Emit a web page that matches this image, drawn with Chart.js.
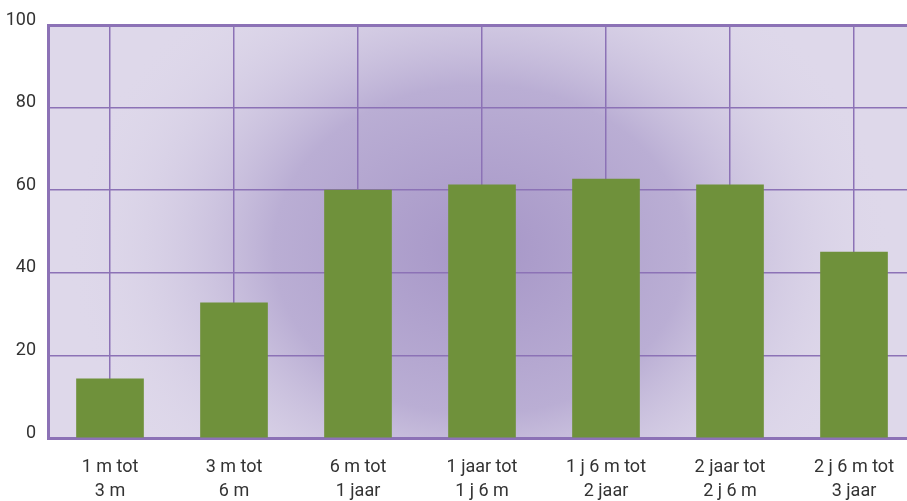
<!DOCTYPE html>
<html>
<head>
<meta charset="utf-8">
<script src="https://cdn.jsdelivr.net/npm/chart.js@4"></script>
<style>
  html, body { margin: 0; padding: 0; background: #fff; overflow: hidden; }
  #wrap { width: 916px; height: 501px; }
</style>
</head>
<body>
<div id="wrap"><canvas id="myChart" width="916" height="501"></canvas></div>
<script>
// leeftijdsgroepen
var categories = [
  ['1 m tot', '3 m'],
  ['3 m tot', '6 m'],
  ['6 m tot', '1 jaar'],
  ['1 jaar tot', '1 j 6 m'],
  ['1 j 6 m tot', '2 jaar'],
  ['2 jaar tot', '2 j 6 m'],
  ['2 j 6 m tot', '3 jaar']
];
var values = [14.3, 32.7, 60, 61.3, 62.7, 61.3, 45];
var yTicks = [0, 20, 40, 60, 80, 100];

var gridColor = 'rgb(140,114,182)';
var fontFam = '"Roboto", "Liberation Sans", sans-serif';

// purple radial background behind the plot
var bgPlugin = {
  id: 'bg',
  beforeDraw: function (chart) {
    var a = chart.chartArea, c = chart.ctx;
    var cx = 480, cy = 250;
    c.save();
    c.fillStyle = 'rgb(222,216,234)';
    c.fillRect(a.left, a.top, a.right - a.left, a.bottom - a.top);
    // slightly elliptic glow
    c.beginPath();
    c.rect(a.left, a.top, a.right - a.left, a.bottom - a.top);
    c.clip();
    c.translate(cx, cy);
    c.scale(1.25, 1);
    var g = c.createRadialGradient(0, 0, 0, 0, 0, 330);
    g.addColorStop(0, 'rgb(166,150,199)');
    g.addColorStop(0.5, 'rgb(186,174,212)');
    g.addColorStop(1, 'rgba(222,216,234,0)');
    c.fillStyle = g;
    c.fillRect(-500, -400, 1000, 800);
    c.restore();
  }
};

var ctx = document.getElementById('myChart').getContext('2d');
var chart = new Chart(ctx, {
  type: 'bar',
  data: {
    labels: categories,
    datasets: [{
      data: values,
      backgroundColor: 'rgb(111,145,59)',
      barThickness: 67
    }]
  },
  options: {
    responsive: false,
    animation: false,
    layout: { padding: { top: 25, right: 0, left: 0, bottom: 0 } },
    plugins: { legend: { display: false }, tooltip: { enabled: false } },
    scales: {
      x: {
        offset: true,
        grid: { offset: false, color: gridColor, lineWidth: 1.5, drawTicks: false },
        border: { color: gridColor, width: 3 },
        ticks: {
          color: '#333',
          font: { family: fontFam, size: 18, lineHeight: 1.33 },
          padding: 18,
          maxRotation: 0,
          autoSkip: false
        },
        afterFit: function (s) { s.height = 63; }
      },
      y: {
        min: 0, max: 100,
        afterBuildTicks: function (s) { s.ticks = yTicks.map(function (v) { return { value: v }; }); },
        grid: {
          color: gridColor,
          lineWidth: function (c) { return c.tick && c.tick.value === 100 ? 3 : 1.5; },
          drawTicks: false
        },
        border: { color: gridColor, width: 3 },
        ticks: {
          color: '#333',
          font: { family: fontFam, size: 18 },
          padding: 12,
          labelOffset: -5
        },
        afterFit: function (s) { s.width = 48; }
      }
    }
  },
  plugins: [bgPlugin]
});
</script>
</body>
</html>
